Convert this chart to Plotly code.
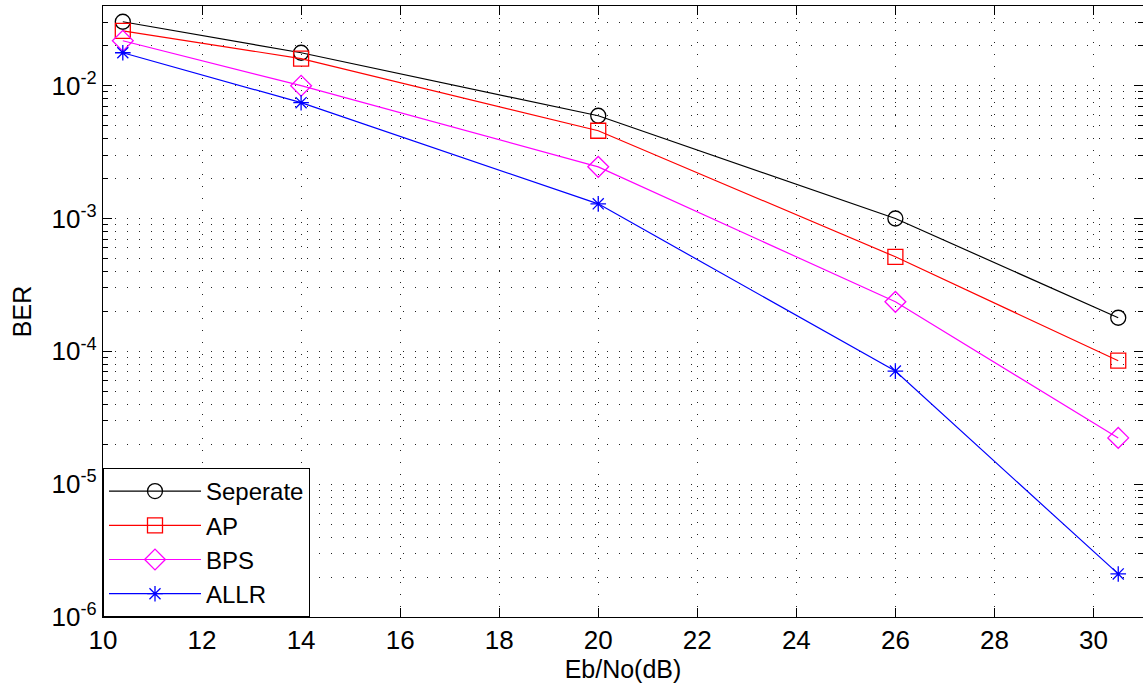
import plotly.graph_objects as go

ebno = [10.4, 14, 20, 26, 30.5]
ber_seperate = [0.0303, 0.0177, 0.00594, 1.0e-3, 1.79e-4]
ber_ap = [0.0259, 0.0160, 0.00458, 5.15e-4, 8.5e-5]
ber_bps = [0.0218, 0.0100, 0.00245, 2.36e-4, 2.23e-5]
ber_allr = [0.0177, 0.00745, 1.29e-3, 7.1e-5, 2.11e-6]

series_names = ["Seperate", "AP", "BPS", "ALLR"]
series_colors = ["#000000", "#ff0000", "#ff00ff", "#0000ff"]
series_symbols = ["circle-open", "square-open", "diamond-open", "asterisk-open"]
series_sizes = [15, 15, 16, 13]
series_data = [ber_seperate, ber_ap, ber_bps, ber_allr]

x_ticks = [10, 12, 14, 16, 18, 20, 22, 24, 26, 28, 30]
y_major = [1e-6, 1e-5, 1e-4, 1e-3, 1e-2]
y_major_text = ["10<sup>-6</sup>", "10<sup>-5</sup>", "10<sup>-4</sup>", "10<sup>-3</sup>", "10<sup>-2</sup>"]
y_minor = [m * 10 ** e for e in range(-6, -1) for m in range(2, 10)]

FONT = "Liberation Sans, Arial, sans-serif"
GRID = "1px,11px"

fig = go.Figure()
for name, color, sym, sz, ys in zip(series_names, series_colors, series_symbols, series_sizes, series_data):
    fig.add_trace(go.Scatter(
        x=ebno, y=ys, name=name, mode="lines+markers",
        line=dict(color=color, width=1.2),
        marker=dict(symbol=sym, size=sz, color=color, line=dict(color=color, width=1.3)),
    ))

fig.update_layout(
    width=1143, height=684,
    margin=dict(l=103, r=0, t=6, b=67),
    paper_bgcolor="white", plot_bgcolor="white",
    font=dict(family=FONT, size=25, color="black"),
    showlegend=True,
    legend=dict(
        x=0, y=0, xanchor="left", yanchor="bottom",
        bgcolor="white", bordercolor="black", borderwidth=1,
        font=dict(family=FONT, size=24, color="black"),
        itemwidth=92, tracegroupgap=0,
    ),
    xaxis=dict(
        range=[10, 31], tickvals=x_ticks,
        ticks="inside", ticklen=9, tickwidth=1, tickcolor="black",
        showline=True, linecolor="black", linewidth=1.3, mirror="ticks",
        showgrid=True, gridcolor="#222222", gridwidth=1, griddash=GRID,
        zeroline=False,
        title=dict(text="Eb/No(dB)", font=dict(family=FONT, size=25), standoff=0),
        tickfont=dict(family=FONT, size=26),
    ),
    yaxis=dict(
        type="log", range=[-6, -1.4],
        tickvals=y_major, ticktext=y_major_text,
        ticks="inside", ticklen=9, tickwidth=1, tickcolor="black",
        showline=True, linecolor="black", linewidth=1.3, mirror="ticks",
        showgrid=True, gridcolor="#222222", gridwidth=1, griddash=GRID,
        zeroline=False,
        minor=dict(tickvals=y_minor, ticks="inside", ticklen=5, tickcolor="black",
                   showgrid=True, gridcolor="#222222", gridwidth=1, griddash=GRID),
        title=dict(text="BER", font=dict(family=FONT, size=25), standoff=12),
        tickfont=dict(family=FONT, size=26),
    ),
)

fig.write_html("out.html")
